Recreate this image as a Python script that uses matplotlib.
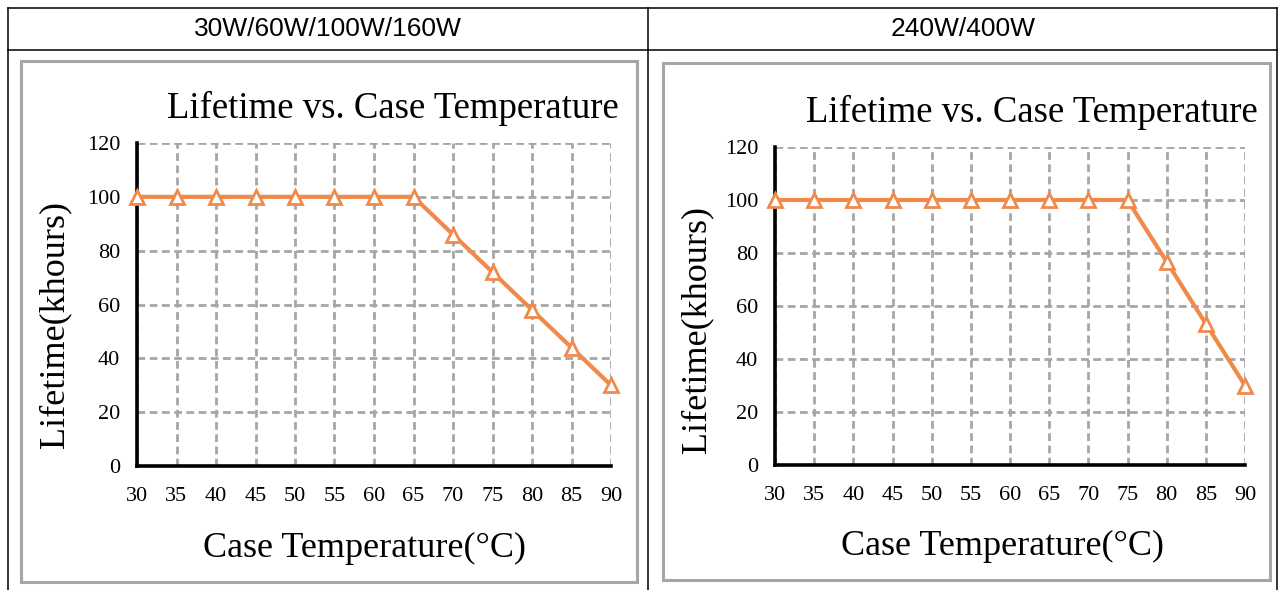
import matplotlib
matplotlib.use('Agg')
import matplotlib.pyplot as plt
from matplotlib.lines import Line2D
from matplotlib.patches import Rectangle

# data
temps = [30, 35, 40, 45, 50, 55, 60, 65, 70, 75, 80, 85, 90]
life_low = [100, 100, 100, 100, 100, 100, 100, 100, 86, 72, 58, 44, 30]
life_high = [100, 100, 100, 100, 100, 100, 100, 100, 100, 100, 76.7, 53.3, 30]
headers = ['30W/60W/100W/160W', '240W/400W']
y_ticks = [0, 20, 40, 60, 80, 100, 120]

W, H = 1284, 590
ORANGE = '#F08A4B'
GRID = '#a6a6a6'
SERIF = 'Liberation Serif'

fig = plt.figure(figsize=(W / 100, H / 100), dpi=100)


def px_rect(x0, y0, x1, y1):
    # pixel box (top-left origin) -> figure fraction rect
    return [x0 / W, 1 - y1 / H, (x1 - x0) / W, (y1 - y0) / H]


def fig_line(xs, ys, **kw):
    fig.add_artist(Line2D([x / W for x in xs], [1 - y / H for y in ys],
                          transform=fig.transFigure, **kw))


# table frame
black = dict(color='black', lw=1.1)
fig_line([8, 1277], [8, 8], **black)
fig_line([8, 1277], [50, 50], **black)
fig_line([8, 8], [8, 590], **black)
fig_line([1277, 1277], [8, 590], **black)
fig_line([648, 648], [8, 590], **black)
fig.text(328 / W, 1 - 29 / H, headers[0], ha='center', va='center',
         family='Liberation Sans', fontsize=19)
fig.text(963 / W, 1 - 29 / H, headers[1], ha='center', va='center',
         family='Liberation Sans', fontsize=19)

# gray chart boxes
for x0, y0, x1, y1 in [(21, 61, 637, 582), (663, 63, 1270, 580)]:
    r = px_rect(x0, y0, x1, y1)
    fig.add_artist(Rectangle((r[0], r[1]), r[2], r[3], transform=fig.transFigure,
                             fill=False, edgecolor=GRID, lw=2.2))


def draw_chart(rect, values, title_x, ylab_xy, xlab_xy):
    ax = fig.add_axes(rect)
    ax.plot(temps, values, color=ORANGE, lw=3, marker='^', markersize=10,
            markerfacecolor='white', markeredgecolor=ORANGE, markeredgewidth=2,
            clip_on=False, zorder=5)
    ax.set_xlim(30, 90)
    ax.set_ylim(0, 120)
    ax.set_xticks(temps)
    ax.set_yticks(y_ticks)
    ax.grid(True, color=GRID, ls=(0, (2.8, 1.6)), lw=2.0)
    ax.set_axisbelow(True)
    for s in ['top', 'right']:
        ax.spines[s].set_visible(False)
    for s in ['left', 'bottom']:
        ax.spines[s].set_linewidth(2.6)
        ax.spines[s].set_zorder(4)
    ax.tick_params(axis='x', length=0, pad=15, labelsize=16)
    ax.tick_params(axis='y', length=0, pad=12, labelsize=16)
    for lab in ax.get_xticklabels() + ax.get_yticklabels():
        lab.set_family(SERIF)
    ax.text(title_x, 1.078, 'Lifetime vs. Case Temperature', transform=ax.transAxes,
            ha='center', va='baseline', family=SERIF, fontsize=26.5)
    ax.set_ylabel('Lifetime(khours)', family=SERIF, fontsize=26)
    ax.yaxis.set_label_coords(*ylab_xy)
    ax.set_xlabel('Case Temperature(°C)', family=SERIF, fontsize=26)
    ax.xaxis.set_label_coords(*xlab_xy)
    ax.xaxis.label.set_va('center')
    ax.yaxis.label.set_va('center')
    return ax


draw_chart(px_rect(137, 143, 611, 466), life_low, 0.54, (-0.173, 0.437), (0.479, -0.254))
draw_chart(px_rect(775, 147, 1245, 465), life_high, 0.547, (-0.166, 0.425), (0.483, -0.255))

fig.savefig('out.png', dpi=100)
